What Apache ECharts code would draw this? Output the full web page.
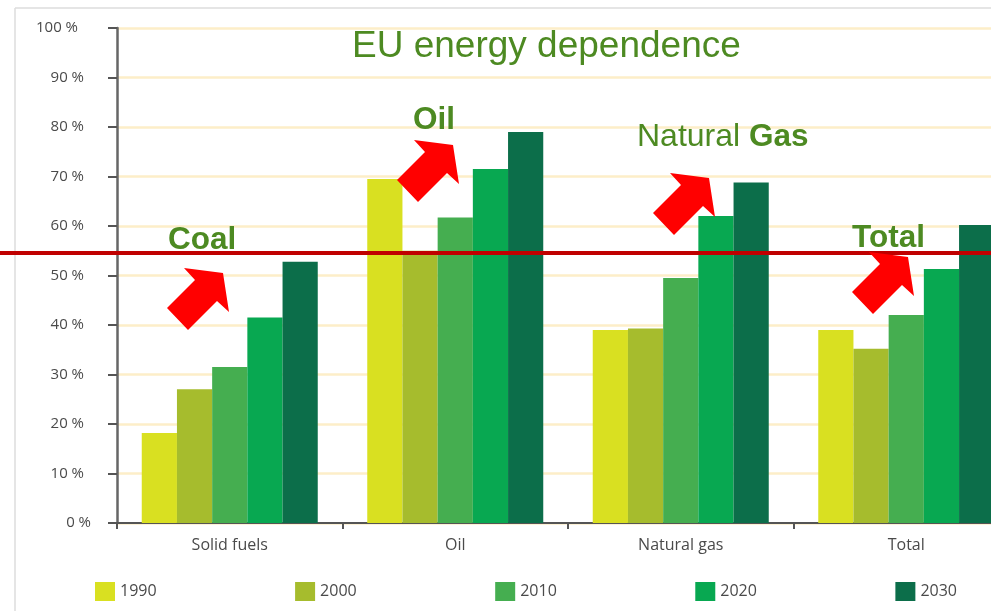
<!DOCTYPE html>
<html><head><meta charset="utf-8">
<style>html,body{margin:0;padding:0;background:#fff;overflow:hidden}#c{width:991px;height:611px}</style>
<script src="https://cdn.jsdelivr.net/npm/echarts@6/dist/echarts.min.js"></script>
</head><body><div id="c"></div>
<script>
const categories = ['Solid fuels', 'Oil', 'Natural gas', 'Total'];
const years = ['1990', '2000', '2010', '2020', '2030'];
const v1990 = [18.2, 69.5, 39, 39];
const v2000 = [27, 55, 39.3, 35.2];
const v2010 = [31.5, 61.7, 49.5, 42];
const v2020 = [41.5, 71.5, 62, 51.3];
const v2030 = [52.8, 79, 68.8, 60.2];
const colors = ['#d9e021', '#a6bc2d', '#45ae50', '#08a851', '#0c6e4a'];
const values = [v1990, v2000, v2010, v2020, v2030];
const GREEN = '#4d8a22', FONT = '"Liberation Sans", Arial, sans-serif', AXF = '"Open Sans", sans-serif', TXT = '#4a4a4a';

// Arrow outline, shifted to each annotation
const arrow = [[670,173],[709,178],[715,217],[703,206],[674,235],[653,213],[681,185]];
const arrowShifts = [[-486,95],[-256,-33],[0,0],[199,79]];

const graphic = [
  {type:'line', silent:true, z:50, shape:{x1:15,y1:8,x2:991,y2:8}, style:{stroke:'#dcdcdc',lineWidth:1.5}},
  {type:'line', silent:true, z:50, shape:{x1:15,y1:8,x2:15,y2:611}, style:{stroke:'#dcdcdc',lineWidth:1.5}},
  {type:'line', silent:true, z:60, shape:{x1:0,y1:253,x2:991,y2:253}, style:{stroke:'#c00000',lineWidth:4}},
];
arrowShifts.forEach(s => graphic.push({type:'polygon', silent:true, z:70,
  shape:{points:arrow.map(p => [p[0]+s[0], p[1]+s[1]])}, style:{fill:'#ff0000'}}));
const label = (x, y, text, extra) => graphic.push({type:'text', silent:true, z:80, x, y,
  style:Object.assign({text, fill:GREEN, font:'bold 31.5px '+FONT, textVerticalAlign:'middle'}, extra||{})});
label(168, 240, 'Coal');
label(413, 120, 'Oil');
label(852, 238, 'Total');
label(637, 137, '{n|Natural }{b|Gas}', {rich:{
  n:{font:'32px '+FONT, fill:GREEN}, b:{font:'bold 31.5px '+FONT, fill:GREEN}}});

const chart = echarts.init(document.getElementById('c'), null, {renderer:'canvas'});
chart.setOption({
  animation:false,
  backgroundColor:'#fff',
  color:colors,
  title:{text:'EU energy dependence', left:347, top:23,
    textStyle:{color:GREEN, fontFamily:FONT, fontSize:37, fontWeight:'normal'}},
  legend:{left:90, top:577, itemWidth:20, itemHeight:19, itemGap:138.5, icon:'rect', data:years,
    textStyle:{color:TXT, fontFamily:AXF, fontSize:16}},
  grid:{left:117, top:28, width:902, height:495, containLabel:false, outerBoundsMode:'none'},
  xAxis:{type:'category', data:categories,
    axisLine:{lineStyle:{color:'#555', width:2}},
    axisTick:{show:true, length:6, alignWithLabel:false, lineStyle:{color:'#555', width:2}},
    axisLabel:{color:TXT, fontFamily:AXF, fontSize:16, margin:14}},
  yAxis:{type:'value', min:0, max:100, interval:10,
    axisLine:{show:true, lineStyle:{color:'#666', width:2.5}},
    axisTick:{show:true, length:9, lineStyle:{color:'#555', width:2}},
    splitLine:{lineStyle:{color:'#fdeec8', width:2.5}},
    axisLabel:{margin:26, color:TXT, fontFamily:AXF, fontSize:15,
      formatter:v => v === 100 ? '{a|100 %}' : v === 0 ? v + ' %' : '{b|' + v + ' %}',
      rich:{a:{padding:[0,13,0,0], color:TXT, fontFamily:AXF, fontSize:15},
            b:{padding:[0,7,0,0], color:TXT, fontFamily:AXF, fontSize:15}}}},
  series:years.map((y,i) => ({name:y, type:'bar', data:values[i], barWidth:35.2, barGap:'0%',
    itemStyle:{color:colors[i]}})),
  graphic
});
</script></body></html>
